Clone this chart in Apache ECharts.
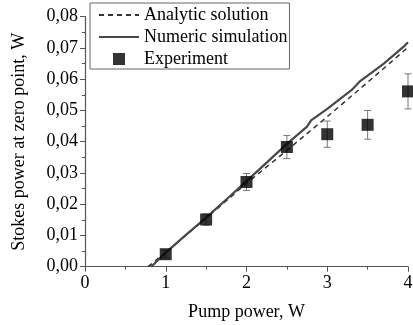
<!DOCTYPE html>
<html>
<head>
<meta charset="utf-8">
<script src="https://cdn.jsdelivr.net/npm/echarts@6/dist/echarts.min.js"></script>
<style>
  html, body { margin: 0; padding: 0; background: #fff; }
  #chart { width: 413px; height: 325px; }
</style>
</head>
<body>
<div id="chart"></div>
<script>
// analytic solution (dashed)
const analyticX = [0.78, 1.0, 1.5, 2.0, 2.5, 3.0, 3.5, 4.0];
const analyticY = [0, 0.0046, 0.0155, 0.0267, 0.0372, 0.0480, 0.0590, 0.0702];

// numeric simulation (solid, slightly wiggly)
const numericX = [0.82, 1.0, 1.25, 1.5, 1.75, 2.0, 2.25, 2.5, 2.75, 2.8, 3.0, 3.3, 3.4, 3.7, 3.95, 4.0];
const numericY = [0, 0.0045, 0.0102, 0.0157, 0.0215, 0.0274, 0.0333, 0.0393, 0.0448, 0.0468, 0.0505, 0.0565, 0.0592, 0.0650, 0.0705, 0.0718];

// experiment with error bars
const expX = [1.0, 1.5, 2.0, 2.5, 3.0, 3.5, 4.0];
const expY = [0.0040, 0.0151, 0.0271, 0.0383, 0.0424, 0.0454, 0.0561];
const expErr = [0.0012, 0.0018, 0.0027, 0.0037, 0.0042, 0.0046, 0.0056];

const xTicks = [0, 1, 2, 3, 4];

const serif = 'Liberation Serif';
const axisColor = '#555';

const chart = echarts.init(document.getElementById('chart'));

const zip = (xs, ys) => xs.map((x, i) => [x, ys[i]]);

// hide the marker drawn in the middle of line legend icons
const noMarker = { color: 'rgba(0,0,0,0)', opacity: 0, borderWidth: 0 };

chart.setOption({
    animation: false,
    grid: { left: 85, right: 5, top: 16.7, bottom: 58.3, outerBoundsMode: 'none' },
    legend: {
        orient: 'vertical',
        left: 90, top: 3,
        padding: [3, 2, 1, 8],
        borderColor: '#666', borderWidth: 1,
        itemWidth: 40, itemHeight: 12, itemGap: 4,
        textStyle: { fontFamily: serif, fontSize: 18, color: '#000', lineHeight: 18 },
        data: [
            { name: 'Analytic solution', itemStyle: noMarker },
            { name: 'Numeric simulation', itemStyle: noMarker },
            { name: 'Experiment', icon: 'path://M0,0L1,0L1,1L0,1Z' }
        ]
    },
    xAxis: {
        type: 'value', min: 0, max: 4, interval: 1,
        name: 'Pump power, W', nameLocation: 'middle', nameGap: 37,
        nameTextStyle: { fontFamily: serif, fontSize: 18, color: '#000' },
        axisLine: { lineStyle: { color: axisColor, width: 1.2 } },
        axisTick: { inside: false, length: 5, lineStyle: { color: axisColor } },
        minorTick: { show: true, splitNumber: 2, length: 3, lineStyle: { color: axisColor } },
        splitLine: { show: false },
        axisLabel: {
            margin: 8, fontFamily: serif, fontSize: 18, color: '#000',
            formatter: v => xTicks.includes(v) ? String(v) : ''
        }
    },
    yAxis: {
        type: 'value', min: 0, max: 0.08, interval: 0.01,
        name: 'Stokes power at zero point, W', nameLocation: 'middle', nameGap: 57,
        nameTextStyle: { fontFamily: serif, fontSize: 18, color: '#000' },
        axisLine: { show: true, lineStyle: { color: axisColor, width: 1.2 } },
        axisTick: { show: true, inside: false, length: 5, lineStyle: { color: axisColor } },
        minorTick: { show: true, splitNumber: 2, length: 3, lineStyle: { color: axisColor } },
        splitLine: { show: false },
        axisLabel: {
            margin: 7, fontFamily: serif, fontSize: 18, color: '#000',
            formatter: v => v.toFixed(2).replace('.', ',')
        }
    },
    series: [
        {
            name: 'Analytic solution', type: 'line', data: zip(analyticX, analyticY),
            showSymbol: false, symbol: 'none', z: 3,
            lineStyle: { color: '#333', width: 1.5, type: [5, 4] },
            itemStyle: { color: '#333' }
        },
        {
            name: 'Numeric simulation', type: 'line', data: zip(numericX, numericY),
            showSymbol: false, symbol: 'none', z: 3,
            lineStyle: { color: '#484848', width: 2.2 },
            itemStyle: { color: '#484848' }
        },
        {
            name: 'Experiment errors', type: 'custom', z: 4,
            data: expX.map((x, i) => [x, expY[i] - expErr[i], expY[i] + expErr[i]]),
            renderItem: (params, api) => {
                const lo = api.coord([api.value(0), api.value(1)]);
                const hi = api.coord([api.value(0), api.value(2)]);
                const cap = 3.5;
                const style = { stroke: '#777', lineWidth: 1 };
                return {
                    type: 'group',
                    children: [
                        { type: 'line', shape: { x1: lo[0], y1: lo[1], x2: hi[0], y2: hi[1] }, style },
                        { type: 'line', shape: { x1: lo[0] - cap, y1: lo[1], x2: lo[0] + cap, y2: lo[1] }, style },
                        { type: 'line', shape: { x1: hi[0] - cap, y1: hi[1], x2: hi[0] + cap, y2: hi[1] }, style }
                    ]
                };
            }
        },
        {
            name: 'Experiment', type: 'scatter', data: zip(expX, expY), z: 5,
            symbol: 'rect', symbolSize: 12, symbolKeepAspect: true,
            itemStyle: { color: '#000' }
        }
    ]
});
</script>
</body>
</html>
